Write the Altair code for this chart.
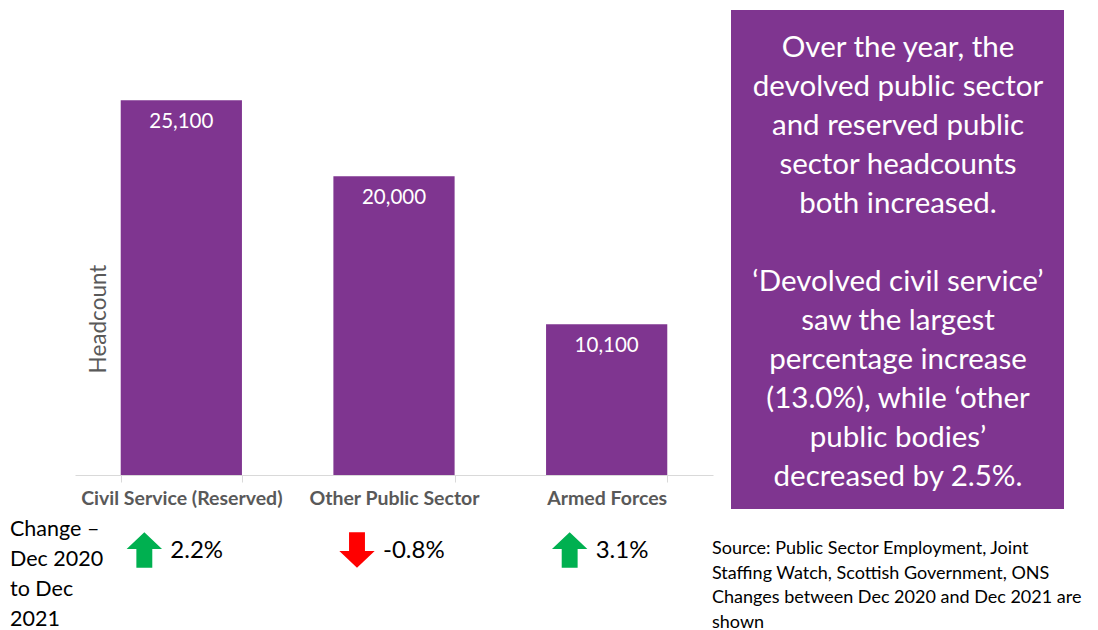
import altair as alt
import pandas as pd

categories = ["Civil Service (Reserved)", "Other Public Sector", "Armed Forces"]
headcount = [25100, 20000, 10100]
labels = ["25,100", "20,000", "10,100"]
changes = ["2.2%", "-0.8%", "3.1%"]
directions = ["up", "down", "up"]

box_text_top = ("Over the year, the\ndevolved public sector\nand reserved public\nsector headcounts\n"
                "both increased.")
box_text_bottom = ("\u2018Devolved civil service\u2019\nsaw the largest\n"
                   "percentage increase\n(13.0%), while \u2018other\npublic bodies\u2019\ndecreased by 2.5%.")
change_title = "Change \u2013\nDec 2020\nto Dec\n2021"
source_text = ("Source: Public Sector Employment, Joint\nStaffing Watch, Scottish Government, ONS\n"
               "Changes between Dec 2020 and Dec 2021 are\nshown")

FONT = "Lato"
PURPLE = "#7F3590"

df = pd.DataFrame({"cat": categories, "value": headcount, "label": labels,
                   "change": changes, "dir": directions})

x = alt.X("cat:N", sort=categories, title=None,
          scale=alt.Scale(paddingInner=0.43, paddingOuter=0.215),
          axis=alt.Axis(labelAngle=0, labelFont=FONT, labelFontSize=19.5, labelFontWeight="bold",
                        labelColor="#595959", labelPadding=7, domainColor="#D9D9D9",
                        tickColor="#D9D9D9", tickSize=7, tickBand="extent", labelLimit=300))
y = alt.Y("value:Q", scale=alt.Scale(domain=[0, 30000]), axis=None)

base = alt.Chart(df)
bars = base.mark_bar(color=PURPLE).encode(x=x, y=y)
bar_labels = base.mark_text(color="white", font=FONT, fontSize=20.5, baseline="middle", dy=22).encode(
    x=alt.X("cat:N", sort=categories), y="value:Q", text="label:N")

up_path = "M0,-1 L1,-0.05 L0.45,-0.05 L0.45,1 L-0.45,1 L-0.45,-0.05 L-1,-0.05 Z"
down_path = "M0,1 L1,0.05 L0.45,0.05 L0.45,-1 L-0.45,-1 L-0.45,0.05 L-1,0.05 Z"
arrows = base.mark_point(filled=True, opacity=1, size=1250, xOffset=-37).encode(
    x=alt.X("cat:N", sort=categories), y=alt.value(523),
    shape=alt.Shape("dir:N", scale=alt.Scale(domain=["up", "down"], range=[up_path, down_path]), legend=None),
    color=alt.Color("dir:N", scale=alt.Scale(domain=["up", "down"], range=["#00B050", "#FF0000"]), legend=None))
change_labels = base.mark_text(align="left", baseline="middle", font=FONT, fontSize=24,
                               color="black", dx=-11).encode(
    x=alt.X("cat:N", sort=categories), y=alt.value(524), text="change:N")

txt_df = pd.DataFrame({"top": [box_text_top], "bottom": [box_text_bottom]})
box = alt.Chart(txt_df).mark_rect(color=PURPLE).encode(
    x=alt.value(656), x2=alt.value(989), y=alt.value(-17), y2=alt.value(482))
box_txt_top = alt.Chart(txt_df).mark_text(
    color="white", font=FONT, fontSize=29.5, align="center", baseline="alphabetic",
    lineBreak="\n", lineHeight=39).encode(x=alt.value(823), y=alt.value(30), text="top:N")
box_txt_bottom = alt.Chart(txt_df).mark_text(
    color="white", font=FONT, fontSize=29.5, align="center", baseline="alphabetic",
    lineBreak="\n", lineHeight=39).encode(x=alt.value(823), y=alt.value(264), text="bottom:N")

ytitle = alt.Chart(pd.DataFrame({"t": ["Headcount"]})).mark_text(
    color="#595959", font=FONT, fontSize=22.5, angle=270, align="center", baseline="middle").encode(
    x=alt.value(24), y=alt.value(292), text="t:N")

chg_title = alt.Chart(pd.DataFrame({"t": [change_title]})).mark_text(
    color="black", font=FONT, fontSize=21.5, align="left", baseline="alphabetic",
    lineBreak="\n", lineHeight=30).encode(x=alt.value(-65), y=alt.value(509), text="t:N")

src = alt.Chart(pd.DataFrame({"t": [source_text]})).mark_text(
    color="black", font=FONT, fontSize=18, align="left", baseline="alphabetic",
    lineBreak="\n", lineHeight=24.5).encode(x=alt.value(637), y=alt.value(527), text="t:N")

chart = alt.layer(bars, bar_labels, arrows, change_labels, box, box_txt_top, box_txt_bottom,
                  ytitle, chg_title, src).properties(
    width=638, height=448,
    autosize=alt.AutoSizeParams(type="none"),
    padding={"left": 67, "top": 19, "right": 377, "bottom": 160},
).configure_view(stroke=None)

chart.save("out.html", embed_options={"renderer": "svg", "actions": False})
